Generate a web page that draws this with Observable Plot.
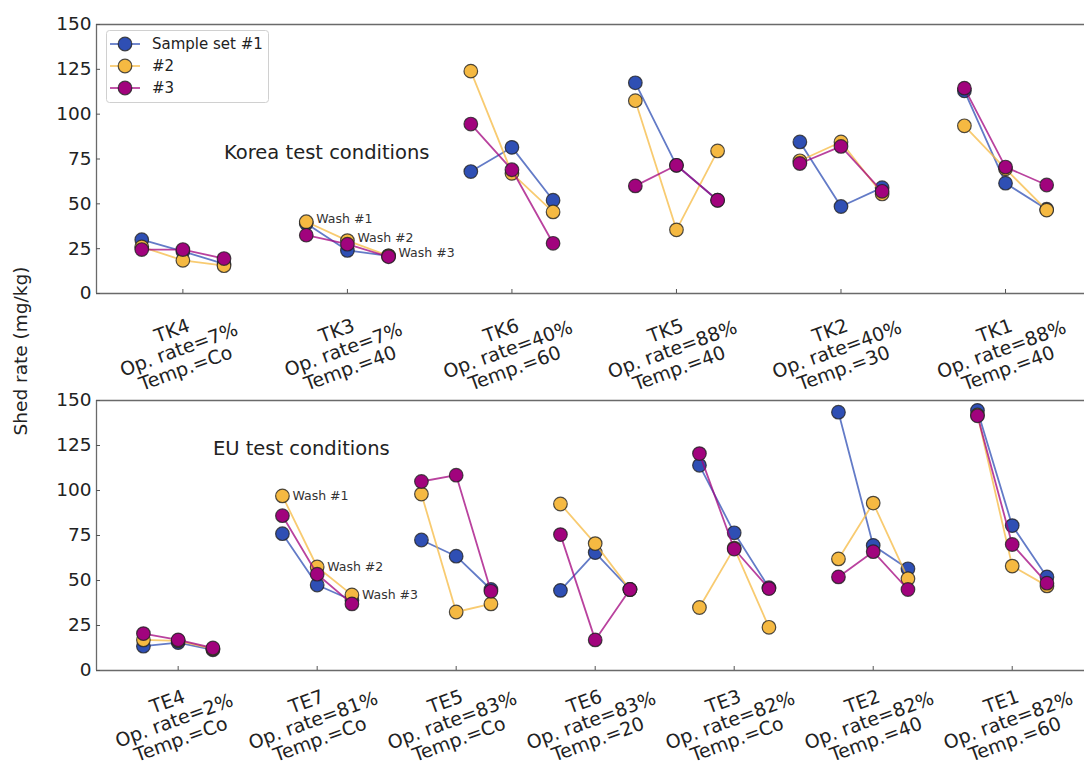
<!DOCTYPE html>
<html>
<head>
<meta charset="utf-8">
<script src="https://cdn.jsdelivr.net/npm/d3@7"></script>
<script src="https://cdn.jsdelivr.net/npm/@observablehq/plot@0.6"></script>
<style>
  html, body { margin: 0; padding: 0; background: #fff; }
  #chart { position: relative; width: 1084px; height: 767px; font-family: "DejaVu Sans", sans-serif; color: #222; }
  #top, #bottom { position: absolute; left: 0; }
  #top { top: 0; }
  #bottom { top: 390px; }
  #ylabel { position: absolute; left: 20px; top: 351px; transform: translate(-50%, -50%) rotate(-90deg); font-size: 18.5px; white-space: nowrap; color: #222; }
  #legend { position: absolute; left: 0; top: 0; }
</style>
</head>
<body>
<div id="chart">
  <div id="top"></div>
  <div id="bottom"></div>
  <div id="ylabel">Shed rate (mg/kg)</div>
  <svg id="legend" width="300" height="120"></svg>
</div>
<script>
// ---------------- DATA ----------------
const seriesNames = ["Sample set #1", "#2", "#3"];
const seriesColors = ["#2f4fb4", "#f5b942", "#a1037d"];
const washLabels = ["Wash #1", "Wash #2", "Wash #3"];
const yTicks = [0, 25, 50, 75, 100, 125, 150];

// Korea panel
const koreaNames = ["TK4", "TK3", "TK6", "TK5", "TK2", "TK1"];
const koreaOpRates = ["7%", "7%", "40%", "88%", "40%", "88%"];
const koreaTemps = ["Co", "40", "60", "40", "30", "40"];
const koreaSet1 = [[30, 23.5, 16.5], [39, 24, 21], [68, 81.5, 52], [117.5, 71.5, 52], [84.5, 48.5, 59], [113, 61.5, 47]];
const koreaSet2 = [[26, 18.5, 15.5], [40, 29.5, 21], [124, 67, 45.5], [107.5, 35.5, 79.5], [74, 84.5, 55.5], [93.5, 69.5, 46.5]];
const koreaSet3 = [[24.5, 24.5, 19.5], [32.5, 27.5, 20.5], [94.5, 69, 28], [60, 71.5, 52], [72.5, 82, 57], [114.5, 70.5, 60.5]];
const koreaTitle = "Korea test conditions";

// EU panel
const euNames = ["TE4", "TE7", "TE5", "TE6", "TE3", "TE2", "TE1"];
const euOpRates = ["2%", "81%", "83%", "83%", "82%", "82%", "82%"];
const euTemps = ["Co", "Co", "Co", "20", "Co", "40", "60"];
const euSet1 = [[13.5, 15.5, 11.5], [76, 47.5, 39], [72.5, 63.5, 45], [44.5, 65.5, 45], [114, 76.5, 46], [143.5, 69.5, 56.5], [144.5, 80.5, 52]];
const euSet2 = [[17, 16.5, 12], [97, 57.5, 42], [98, 32.5, 37], [92.5, 70.5, 45], [35, 68, 24], [62, 93, 51], [142, 58, 47]];
const euSet3 = [[20.5, 17, 12.5], [86, 53.5, 37], [105, 108.5, 44], [75.5, 17, 45], [120.5, 67.5, 45.5], [52, 66, 45], [141.5, 70, 48.5]];
const euTitle = "EU test conditions";

// ---------------- BUILD ----------------
function flatten(sets) {
  const rows = [];
  sets.forEach((set, s) => set.forEach((vals, g) => vals.forEach((v, w) => {
    rows.push({series: s, group: g, wash: w, slot: 4 * g + w, value: v});
  })));
  return rows;
}

function panel({names, ops, temps, sets, title, titleY, annotGroup, xDomain, height, marginTop, marginBottom, labelDy, annotDy}) {
  const rows = flatten(sets);
  const labels = names.map((n, g) => ({slot: 4 * g + 1, text: `${n}\nOp. rate=${ops[g]}\nTemp.=${temps[g]}`}));
  const centers = labels.map(d => d.slot);
  const annot = washLabels.map((t, w) => ({slot: 4 * annotGroup + w, value: sets[1][annotGroup][w], text: t}));
  const marks = [
    Plot.ruleY([0, 150], {stroke: "#6a6a6a", strokeWidth: 1.3}),
    Plot.ruleX([xDomain[0]], {stroke: "#6a6a6a", strokeWidth: 1.3}),
    Plot.axisY({ticks: yTicks, tickSize: -4, tickPadding: 9, fontSize: 18.5, label: null, stroke: "#555"}),
    Plot.axisX({ticks: centers, tickSize: -4, tickFormat: () => "", label: null, stroke: "#555"})
  ];
  sets.forEach((_, s) => {
    const data = rows.filter(d => d.series === s);
    marks.push(Plot.line(data, {x: "slot", y: "value", z: "group", stroke: seriesColors[s], strokeWidth: 1.8, strokeOpacity: 0.75}));
    marks.push(Plot.dot(data, {x: "slot", y: "value", r: 6.8, fill: seriesColors[s], stroke: "#222", strokeWidth: 1.2, strokeOpacity: 0.8}));
  });
  marks.push(Plot.text(annot, {x: "slot", y: "value", text: "text", dx: 10, dy: annotDy, textAnchor: "start", fontSize: 12.5, fill: "#333"}));
  marks.push(Plot.text([title], {x: 2, y: titleY, text: d => d, textAnchor: "start", fontSize: 19.5, fill: "#222"}));
  marks.push(Plot.text(labels, {x: "slot", y: 0, text: "text", dy: labelDy, dx: -4, rotate: -20, textAnchor: "middle", lineAnchor: "middle", lineHeight: 1.05, fontSize: 19, fill: "#222"}));
  return Plot.plot({
    width: 1084, height, marginLeft: 96, marginRight: 0, marginTop, marginBottom,
    x: {domain: xDomain}, y: {domain: [0, 150]},
    style: {fontFamily: "DejaVu Sans", color: "#222", background: "transparent", overflow: "visible"},
    marks
  });
}

document.getElementById("top").append(panel({
  names: koreaNames, ops: koreaOpRates, temps: koreaTemps, sets: [koreaSet1, koreaSet2, koreaSet3],
  title: koreaTitle, titleY: 78.5, annotGroup: 1, xDomain: [-1.1, 22.92],
  height: 390, marginTop: 24, marginBottom: 97, labelDy: 56, annotDy: -3
}));
document.getElementById("bottom").append(panel({
  names: euNames, ops: euOpRates, temps: euTemps, sets: [euSet1, euSet2, euSet3],
  title: euTitle, titleY: 123.3, annotGroup: 1, xDomain: [-1.35, 27.08],
  height: 377, marginTop: 10, marginBottom: 97, labelDy: 50, annotDy: 0
}));

// Legend
const lg = d3.select("#legend");
lg.append("rect").attr("x", 106.5).attr("y", 30.5).attr("width", 162).attr("height", 72).attr("rx", 3)
  .attr("fill", "white").attr("fill-opacity", 0.8).attr("stroke", "#d0d0d0");
seriesNames.forEach((name, i) => {
  const y = 44 + i * 22;
  lg.append("line").attr("x1", 110).attr("x2", 140).attr("y1", y).attr("y2", y)
    .attr("stroke", seriesColors[i]).attr("stroke-width", 1.8).attr("stroke-opacity", 0.75);
  lg.append("circle").attr("cx", 125).attr("cy", y).attr("r", 6.8).attr("fill", seriesColors[i])
    .attr("stroke", "#222").attr("stroke-width", 1.2).attr("stroke-opacity", 0.8);
  lg.append("text").attr("x", 152).attr("y", y).attr("dy", "0.35em").attr("font-size", 15)
    .attr("font-family", "DejaVu Sans").attr("fill", "#222").text(name);
});
</script>
</body>
</html>
